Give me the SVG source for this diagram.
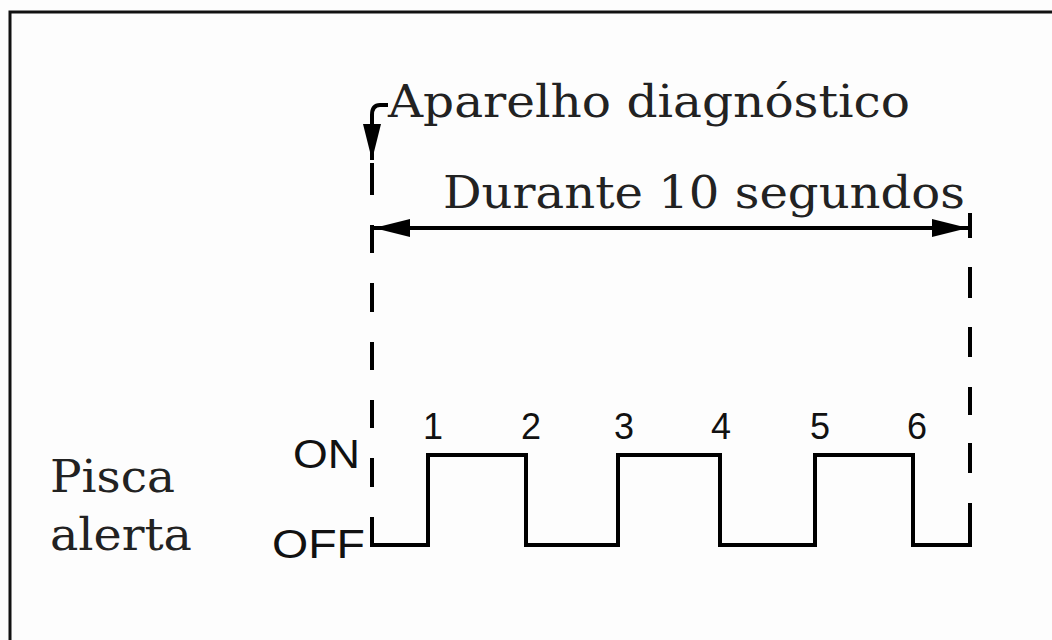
<svg xmlns="http://www.w3.org/2000/svg" width="1052" height="640" viewBox="0 0 1052 640">
  <style>
    .serif { font-family: "DejaVu Serif", "Liberation Serif", serif; fill: #222; }
    .sans { font-family: "Liberation Sans", Arial, sans-serif; fill: #111; }
    .line { fill: none; stroke: #000; stroke-width: 4; }
    .dash { fill: none; stroke: #000; stroke-width: 4; }
  </style>
  <defs>
    <marker id="arrow" viewBox="0 0 36 18" refX="36" refY="9" markerWidth="36" markerHeight="18" markerUnits="userSpaceOnUse" orient="auto-start-reverse">
      <path d="M0,0 L36,9 L0,18 Z" fill="#000"/>
    </marker>
  </defs>
  <rect x="0" y="0" width="1052" height="640" fill="#fdfdfd"/>
  <path d="M10,660 L10,12 L1070,12" fill="none" stroke="#111" stroke-width="3"/>

  <g id="label-aparelho">
    <text class="serif" x="388" y="117" font-size="44" textLength="522" lengthAdjust="spacingAndGlyphs">Aparelho diagnóstico</text>
  </g>
  <g id="label-durante">
    <text class="serif" x="443" y="208" font-size="44" textLength="522" lengthAdjust="spacingAndGlyphs">Durante 10 segundos</text>
  </g>
  <g id="label-pisca">
    <text class="serif" x="50" y="492" font-size="44" textLength="125" lengthAdjust="spacingAndGlyphs">Pisca</text>
    <text class="serif" x="50" y="550" font-size="44" textLength="142" lengthAdjust="spacingAndGlyphs">alerta</text>
  </g>
  <g id="label-on-off">
    <text class="sans" x="293" y="468" font-size="40" textLength="67" lengthAdjust="spacingAndGlyphs">ON</text>
    <text class="sans" x="272" y="558" font-size="40" textLength="93" lengthAdjust="spacingAndGlyphs">OFF</text>
  </g>
  <g id="pulse-numbers" class="sans" font-size="36" text-anchor="middle">
    <text x="433" y="439">1</text>
    <text x="531" y="439">2</text>
    <text x="624" y="439">3</text>
    <text x="721" y="439">4</text>
    <text x="820" y="439">5</text>
    <text x="917" y="439">6</text>
  </g>

  <g id="connectors">
    <!-- start marker arrow -->
    <path class="line" d="M388,105 L380,105 Q372,105 372,115 L372,160" marker-end="url(#arrow)" stroke-width="3.5"/>
    <!-- left dashed line -->
    <path class="dash" d="M372,163 V195 M372,225 V253 M372,283 V312 M372,342 V370 M372,400 V428 M372,458 V487"/>
    <!-- right dashed line -->
    <path class="dash" d="M970,213 V238 M970,267 V298 M970,327 V357 M970,387 V415 M970,443 V473"/>
    <!-- duration arrow -->
    <path class="line" d="M374,228 L968,228" stroke-width="3.5" marker-start="url(#arrow)" marker-end="url(#arrow)"/>
    <!-- waveform -->
    <path class="line" d="M372,517 V545 H428 V455 H526 V545 H618 V455 H720 V545 H815 V455 H913 V545 H970 V503" stroke-linejoin="miter"/>
  </g>
</svg>
